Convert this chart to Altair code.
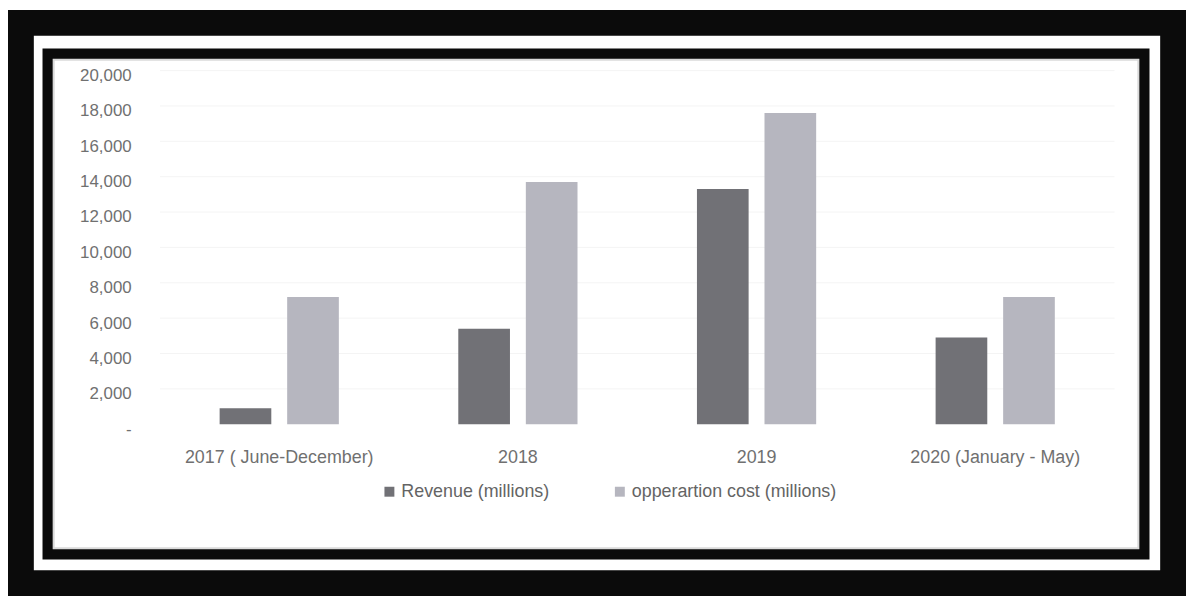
import altair as alt
import pandas as pd

periods = ["2017 ( June-December)", "2018", "2019", "2020 (January - May)"]
revenue = [900, 5400, 13300, 4900]
operation_cost = [7200, 13700, 17600, 7200]
series_names = ["Revenue (millions)", "opperartion cost (millions)"]
series_colors = ["#717176", "#b6b6bf"]
y_ticks = [0, 2000, 4000, 6000, 8000, 10000, 12000, 14000, 16000, 18000, 20000]

rows = []
for p, r, c in zip(periods, revenue, operation_cost):
    rows.append({"period": p, "series": series_names[0], "value": r})
    rows.append({"period": p, "series": series_names[1], "value": c})
df = pd.DataFrame(rows)
grid_df = pd.DataFrame({"value": y_ticks[1:]})
frame_df = pd.DataFrame({"k": [0]})

FONT = "Liberation Sans"
W = 961
H = 356

y_scale = alt.Scale(domain=[0, 20000], nice=False, zero=True)
y_axis = alt.Axis(
    title=None,
    values=y_ticks,
    labelExpr="datum.value == 0 ? '-\u00a0' : format(datum.value, ',')",
    labelFont=FONT,
    labelFontSize=17,
    labelColor="#707070",
    labelPadding=29,
    labelOffset=5,
    ticks=False,
    tickSize=0,
    domain=False,
    grid=False,
)

# decorative double frame (scanned border)
outer_frame = alt.Chart(frame_df).mark_rect(
    fill=None, fillOpacity=0, stroke="#0b0b0b", strokeWidth=26
).encode(x=alt.value(-140), x2=alt.value(1020), y=alt.value(-48), y2=alt.value(516))

inner_frame = alt.Chart(frame_df).mark_rect(
    fill=None, fillOpacity=0, stroke="#0b0b0b", strokeWidth=10.5
).encode(x=alt.value(-113), x2=alt.value(991), y=alt.value(-17), y2=alt.value(487))

shade_frame = alt.Chart(frame_df).mark_rect(
    fill=None, fillOpacity=0, stroke="#dadada", strokeWidth=2
).encode(x=alt.value(-107), x2=alt.value(985), y=alt.value(-11), y2=alt.value(481))

grid = alt.Chart(grid_df).mark_rule(color="#f4f4f4", strokeWidth=1).encode(
    y=alt.Y("value:Q", scale=y_scale, axis=y_axis),
    x=alt.value(0),
    x2=alt.value(W),
)

bars = alt.Chart(df).mark_bar().encode(
    x=alt.X(
        "period:N",
        sort=periods,
        scale=alt.Scale(paddingInner=0.5005, paddingOuter=0.25),
        axis=alt.Axis(
            title=None,
            labelAngle=0,
            labelFont=FONT,
            labelFontSize=18,
            labelColor="#707070",
            labelPadding=25,
            labelLimit=0,
            ticks=False,
            tickSize=0,
            domain=False,
            grid=False,
            labelBaseline="top",
        ),
    ),
    xOffset=alt.XOffset(
        "series:N",
        sort=series_names,
        scale=alt.Scale(paddingInner=0.235, paddingOuter=0),
    ),
    y=alt.Y("value:Q", scale=y_scale, axis=y_axis),
    color=alt.Color(
        "series:N",
        sort=series_names,
        scale=alt.Scale(domain=series_names, range=series_colors),
        legend=alt.Legend(
            title=None,
            orient="none",
            direction="horizontal",
            legendX=222,
            legendY=415,
            symbolType="square",
            symbolSize=100,
            symbolStrokeWidth=0,
            labelFont=FONT,
            labelFontSize=18,
            labelColor="#646464",
            labelOffset=3,
            labelLimit=0,
            columnPadding=61,
            padding=0,
        ),
    ),
)

chart = alt.layer(outer_frame, inner_frame, shade_frame, grid, bars).properties(
    width=W,
    height=H,
    autosize=alt.AutoSizeParams(type="none"),
    padding={"left": 153, "top": 61, "right": 72, "bottom": 173},
    background="white",
).configure_view(stroke=None).configure_axis(zindex=1)

chart.save("out.html", embed_options={"renderer": "svg", "actions": False})
